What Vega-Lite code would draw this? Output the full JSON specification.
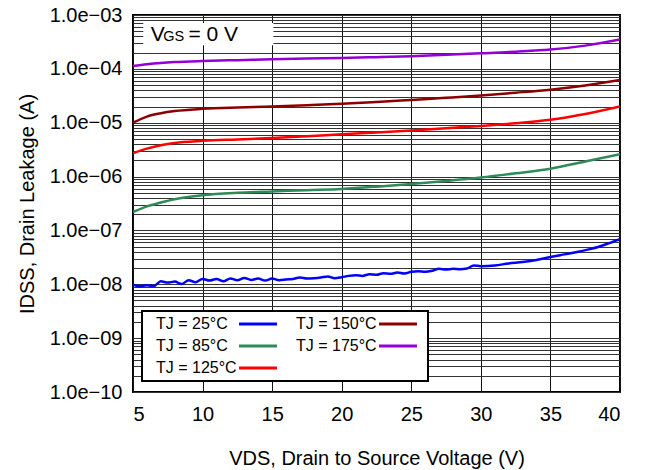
{
  "$schema": "https://vega.github.io/schema/vega-lite/v6.json",
  "width": 487,
  "height": 377,
  "autosize": {"type": "none"},
  "padding": {"left": 133, "top": 15, "right": 25, "bottom": 78},
  "config": {
    "font": "Liberation Sans",
    "view": {"stroke": "black", "strokeWidth": 2},
    "legend": {"strokeWidth": 2}
  },
  "datasets": {
    "curves": [
      {"vds": 5, "idss": 1.13e-4, "T": "TJ = 175°C"},
      {"vds": 6, "idss": 1.22e-4, "T": "TJ = 175°C"},
      {"vds": 7, "idss": 1.29e-4, "T": "TJ = 175°C"},
      {"vds": 8, "idss": 1.34e-4, "T": "TJ = 175°C"},
      {"vds": 10, "idss": 1.40e-4, "T": "TJ = 175°C"},
      {"vds": 12.5, "idss": 1.45e-4, "T": "TJ = 175°C"},
      {"vds": 15, "idss": 1.50e-4, "T": "TJ = 175°C"},
      {"vds": 17.5, "idss": 1.55e-4, "T": "TJ = 175°C"},
      {"vds": 20, "idss": 1.59e-4, "T": "TJ = 175°C"},
      {"vds": 22.5, "idss": 1.65e-4, "T": "TJ = 175°C"},
      {"vds": 25, "idss": 1.72e-4, "T": "TJ = 175°C"},
      {"vds": 27.5, "idss": 1.82e-4, "T": "TJ = 175°C"},
      {"vds": 30, "idss": 1.94e-4, "T": "TJ = 175°C"},
      {"vds": 32.5, "idss": 2.08e-4, "T": "TJ = 175°C"},
      {"vds": 35, "idss": 2.28e-4, "T": "TJ = 175°C"},
      {"vds": 37.5, "idss": 2.70e-4, "T": "TJ = 175°C"},
      {"vds": 40, "idss": 3.50e-4, "T": "TJ = 175°C"},

      {"vds": 5, "idss": 1.0e-5, "T": "TJ = 150°C"},
      {"vds": 6, "idss": 1.3e-5, "T": "TJ = 150°C"},
      {"vds": 7, "idss": 1.5e-5, "T": "TJ = 150°C"},
      {"vds": 8, "idss": 1.65e-5, "T": "TJ = 150°C"},
      {"vds": 10, "idss": 1.81e-5, "T": "TJ = 150°C"},
      {"vds": 12.5, "idss": 1.92e-5, "T": "TJ = 150°C"},
      {"vds": 15, "idss": 2.0e-5, "T": "TJ = 150°C"},
      {"vds": 17.5, "idss": 2.12e-5, "T": "TJ = 150°C"},
      {"vds": 20, "idss": 2.25e-5, "T": "TJ = 150°C"},
      {"vds": 22.5, "idss": 2.42e-5, "T": "TJ = 150°C"},
      {"vds": 25, "idss": 2.65e-5, "T": "TJ = 150°C"},
      {"vds": 27.5, "idss": 2.9e-5, "T": "TJ = 150°C"},
      {"vds": 30, "idss": 3.2e-5, "T": "TJ = 150°C"},
      {"vds": 32.5, "idss": 3.6e-5, "T": "TJ = 150°C"},
      {"vds": 35, "idss": 4.1e-5, "T": "TJ = 150°C"},
      {"vds": 37.5, "idss": 4.9e-5, "T": "TJ = 150°C"},
      {"vds": 40, "idss": 6.2e-5, "T": "TJ = 150°C"},

      {"vds": 5, "idss": 2.7e-6, "T": "TJ = 125°C"},
      {"vds": 6, "idss": 3.3e-6, "T": "TJ = 125°C"},
      {"vds": 7, "idss": 3.8e-6, "T": "TJ = 125°C"},
      {"vds": 8, "idss": 4.2e-6, "T": "TJ = 125°C"},
      {"vds": 10, "idss": 4.6e-6, "T": "TJ = 125°C"},
      {"vds": 12.5, "idss": 4.9e-6, "T": "TJ = 125°C"},
      {"vds": 15, "idss": 5.2e-6, "T": "TJ = 125°C"},
      {"vds": 17.5, "idss": 5.6e-6, "T": "TJ = 125°C"},
      {"vds": 20, "idss": 6.1e-6, "T": "TJ = 125°C"},
      {"vds": 22.5, "idss": 6.6e-6, "T": "TJ = 125°C"},
      {"vds": 25, "idss": 7.2e-6, "T": "TJ = 125°C"},
      {"vds": 27.5, "idss": 7.9e-6, "T": "TJ = 125°C"},
      {"vds": 30, "idss": 8.7e-6, "T": "TJ = 125°C"},
      {"vds": 32.5, "idss": 9.8e-6, "T": "TJ = 125°C"},
      {"vds": 35, "idss": 1.13e-5, "T": "TJ = 125°C"},
      {"vds": 37.5, "idss": 1.45e-5, "T": "TJ = 125°C"},
      {"vds": 40, "idss": 2.0e-5, "T": "TJ = 125°C"},

      {"vds": 5, "idss": 2.2e-7, "T": "TJ = 85°C"},
      {"vds": 6, "idss": 2.8e-7, "T": "TJ = 85°C"},
      {"vds": 7, "idss": 3.3e-7, "T": "TJ = 85°C"},
      {"vds": 8, "idss": 3.8e-7, "T": "TJ = 85°C"},
      {"vds": 10, "idss": 4.5e-7, "T": "TJ = 85°C"},
      {"vds": 12.5, "idss": 5.0e-7, "T": "TJ = 85°C"},
      {"vds": 15, "idss": 5.3e-7, "T": "TJ = 85°C"},
      {"vds": 17.5, "idss": 5.6e-7, "T": "TJ = 85°C"},
      {"vds": 20, "idss": 5.9e-7, "T": "TJ = 85°C"},
      {"vds": 22.5, "idss": 6.5e-7, "T": "TJ = 85°C"},
      {"vds": 25, "idss": 7.3e-7, "T": "TJ = 85°C"},
      {"vds": 27.5, "idss": 8.3e-7, "T": "TJ = 85°C"},
      {"vds": 30, "idss": 9.6e-7, "T": "TJ = 85°C"},
      {"vds": 32.5, "idss": 1.15e-6, "T": "TJ = 85°C"},
      {"vds": 35, "idss": 1.4e-6, "T": "TJ = 85°C"},
      {"vds": 37.5, "idss": 1.9e-6, "T": "TJ = 85°C"},
      {"vds": 40, "idss": 2.6e-6, "T": "TJ = 85°C"},

      {"vds": 5.0, "idss": 9.86e-9, "T": "TJ = 25°C"},
      {"vds": 5.5, "idss": 9.17e-9, "T": "TJ = 25°C"},
      {"vds": 6.0, "idss": 9.57e-9, "T": "TJ = 25°C"},
      {"vds": 6.5, "idss": 9.30e-9, "T": "TJ = 25°C"},
      {"vds": 7.0, "idss": 1.138e-8, "T": "TJ = 25°C"},
      {"vds": 7.5, "idss": 1.074e-8, "T": "TJ = 25°C"},
      {"vds": 8.0, "idss": 1.122e-8, "T": "TJ = 25°C"},
      {"vds": 8.5, "idss": 1.014e-8, "T": "TJ = 25°C"},
      {"vds": 9.0, "idss": 1.188e-8, "T": "TJ = 25°C"},
      {"vds": 9.5, "idss": 1.09e-8, "T": "TJ = 25°C"},
      {"vds": 10.0, "idss": 1.259e-8, "T": "TJ = 25°C"},
      {"vds": 10.5, "idss": 1.171e-8, "T": "TJ = 25°C"},
      {"vds": 11.0, "idss": 1.259e-8, "T": "TJ = 25°C"},
      {"vds": 11.5, "idss": 1.138e-8, "T": "TJ = 25°C"},
      {"vds": 12.0, "idss": 1.277e-8, "T": "TJ = 25°C"},
      {"vds": 12.5, "idss": 1.188e-8, "T": "TJ = 25°C"},
      {"vds": 13.0, "idss": 1.315e-8, "T": "TJ = 25°C"},
      {"vds": 13.5, "idss": 1.206e-8, "T": "TJ = 25°C"},
      {"vds": 14.0, "idss": 1.277e-8, "T": "TJ = 25°C"},
      {"vds": 14.5, "idss": 1.171e-8, "T": "TJ = 25°C"},
      {"vds": 15.0, "idss": 1.277e-8, "T": "TJ = 25°C"},
      {"vds": 15.5, "idss": 1.188e-8, "T": "TJ = 25°C"},
      {"vds": 16.0, "idss": 1.224e-8, "T": "TJ = 25°C"},
      {"vds": 16.5, "idss": 1.259e-8, "T": "TJ = 25°C"},
      {"vds": 17.0, "idss": 1.334e-8, "T": "TJ = 25°C"},
      {"vds": 17.5, "idss": 1.277e-8, "T": "TJ = 25°C"},
      {"vds": 18.0, "idss": 1.296e-8, "T": "TJ = 25°C"},
      {"vds": 18.5, "idss": 1.334e-8, "T": "TJ = 25°C"},
      {"vds": 19.0, "idss": 1.392e-8, "T": "TJ = 25°C"},
      {"vds": 19.5, "idss": 1.296e-8, "T": "TJ = 25°C"},
      {"vds": 20.0, "idss": 1.353e-8, "T": "TJ = 25°C"},
      {"vds": 20.5, "idss": 1.432e-8, "T": "TJ = 25°C"},
      {"vds": 21.0, "idss": 1.474e-8, "T": "TJ = 25°C"},
      {"vds": 21.5, "idss": 1.432e-8, "T": "TJ = 25°C"},
      {"vds": 22.0, "idss": 1.539e-8, "T": "TJ = 25°C"},
      {"vds": 22.5, "idss": 1.496e-8, "T": "TJ = 25°C"},
      {"vds": 23.0, "idss": 1.607e-8, "T": "TJ = 25°C"},
      {"vds": 23.5, "idss": 1.562e-8, "T": "TJ = 25°C"},
      {"vds": 24.0, "idss": 1.654e-8, "T": "TJ = 25°C"},
      {"vds": 24.5, "idss": 1.585e-8, "T": "TJ = 25°C"},
      {"vds": 25.0, "idss": 1.702e-8, "T": "TJ = 25°C"},
      {"vds": 25.5, "idss": 1.751e-8, "T": "TJ = 25°C"},
      {"vds": 26.0, "idss": 1.702e-8, "T": "TJ = 25°C"},
      {"vds": 26.5, "idss": 1.777e-8, "T": "TJ = 25°C"},
      {"vds": 27.0, "idss": 1.937e-8, "T": "TJ = 25°C"},
      {"vds": 27.5, "idss": 1.882e-8, "T": "TJ = 25°C"},
      {"vds": 28.0, "idss": 1.937e-8, "T": "TJ = 25°C"},
      {"vds": 28.5, "idss": 1.91e-8, "T": "TJ = 25°C"},
      {"vds": 29.0, "idss": 1.966e-8, "T": "TJ = 25°C"},
      {"vds": 29.5, "idss": 2.237e-8, "T": "TJ = 25°C"},
      {"vds": 30.0, "idss": 2.173e-8, "T": "TJ = 25°C"},
      {"vds": 31.0, "idss": 2.237e-8, "T": "TJ = 25°C"},
      {"vds": 32.0, "idss": 2.438e-8, "T": "TJ = 25°C"},
      {"vds": 33.0, "idss": 2.582e-8, "T": "TJ = 25°C"},
      {"vds": 34.0, "idss": 2.814e-8, "T": "TJ = 25°C"},
      {"vds": 35.0, "idss": 3.202e-8, "T": "TJ = 25°C"},
      {"vds": 36.0, "idss": 3.594e-8, "T": "TJ = 25°C"},
      {"vds": 37.0, "idss": 4.03e-8, "T": "TJ = 25°C"},
      {"vds": 38.0, "idss": 4.59e-8, "T": "TJ = 25°C"},
      {"vds": 39.0, "idss": 5.53e-8, "T": "TJ = 25°C"},
      {"vds": 40.0, "idss": 6.86e-8, "T": "TJ = 25°C"}
    ]
  },
  "layer": [
    {
      "data": {"name": "curves"},
      "mark": {"type": "line", "strokeWidth": 2.5, "interpolate": "monotone", "clip": true},
      "encoding": {
        "x": {
          "field": "vds", "type": "quantitative",
          "scale": {"domain": [5, 40], "nice": false, "zero": false},
          "axis": {
            "values": [5, 10, 15, 20, 25, 30, 35, 40],
            "title": "VDS, Drain to Source Voltage (V)",
            "grid": true, "gridColor": "#111", "gridWidth": 1, "gridOpacity": 1,
            "ticks": false, "domain": false,
            "labelFontSize": 20, "labelPadding": 12, "labelColor": "black",
            "titleFontSize": 20, "titleFontWeight": "normal", "titleColor": "black", "titlePadding": 24
          }
        },
        "y": {
          "field": "idss", "type": "quantitative",
          "scale": {"type": "log", "domain": [1e-10, 1e-3], "nice": false},
          "axis": {
            "values": [1e-10, 2e-10, 3e-10, 4e-10, 5e-10, 6e-10, 7e-10, 8e-10, 9e-10,
                       1e-9, 2e-9, 3e-9, 4e-9, 5e-9, 6e-9, 7e-9, 8e-9, 9e-9,
                       1e-8, 2e-8, 3e-8, 4e-8, 5e-8, 6e-8, 7e-8, 8e-8, 9e-8,
                       1e-7, 2e-7, 3e-7, 4e-7, 5e-7, 6e-7, 7e-7, 8e-7, 9e-7,
                       1e-6, 2e-6, 3e-6, 4e-6, 5e-6, 6e-6, 7e-6, 8e-6, 9e-6,
                       1e-5, 2e-5, 3e-5, 4e-5, 5e-5, 6e-5, 7e-5, 8e-5, 9e-5,
                       1e-4, 2e-4, 3e-4, 4e-4, 5e-4, 6e-4, 7e-4, 8e-4, 9e-4, 1e-3],
            "labelExpr": "abs(log(datum.value)/LN10 - round(log(datum.value)/LN10)) < 0.001 ? '1.0e\u2212' + (-round(log(datum.value)/LN10) >= 10 ? '' : '0') + (-round(log(datum.value)/LN10)) : ''",
            "title": "IDSS, Drain Leakage (A)",
            "grid": true, "gridColor": "#333", "gridWidth": 1, "gridOpacity": 1,
            "ticks": false, "domain": false,
            "labelFontSize": 20, "labelPadding": 11, "labelColor": "black", "labelOverlap": false,
            "titleFontSize": 20, "titleFontWeight": "normal", "titleColor": "black", "titlePadding": 12
          }
        },
        "color": {
          "field": "T", "type": "nominal",
          "scale": {
            "domain": ["TJ = 25°C", "TJ = 85°C", "TJ = 125°C", "TJ = 150°C", "TJ = 175°C"],
            "range": ["#0000ff", "#2e8b57", "#ff0000", "#8b0000", "#9400d3"]
          },
          "legend": {
            "title": null,
            "orient": "none", "legendX": 9, "legendY": 296,
            "columns": 2, "columnPadding": 4, "rowPadding": 6,
            "fillColor": "white", "strokeColor": "black", "padding": 5,
            "symbolType": "M-4,0H4", "symbolSize": 90, "symbolStrokeWidth": 3,
            "symbolOffset": 103, "labelOffset": -110,
            "labelFontSize": 16, "labelColor": "black", "labelLimit": 200
          }
        }
      }
    },
    {
      "data": {"values": [{}]},
      "mark": {"type": "rect", "fill": "white"},
      "encoding": {
        "x": {"datum": 5.74, "type": "quantitative"},
        "x2": {"datum": 15.09},
        "y": {"datum": 7.08e-4, "type": "quantitative"},
        "y2": {"datum": 2.74e-4}
      }
    },
    {
      "data": {"values": [{}]},
      "mark": {"type": "text", "align": "left", "baseline": "alphabetic", "fontSize": 21, "color": "black"},
      "encoding": {
        "x": {"datum": 6.27, "type": "quantitative"},
        "y": {"datum": 3.3e-4, "type": "quantitative"},
        "text": {"value": "V"}
      }
    },
    {
      "data": {"values": [{}]},
      "mark": {"type": "text", "align": "left", "baseline": "alphabetic", "fontSize": 14.5, "color": "black"},
      "encoding": {
        "x": {"datum": 7.18, "type": "quantitative"},
        "y": {"datum": 3.3e-4, "type": "quantitative"},
        "text": {"value": "GS"}
      }
    },
    {
      "data": {"values": [{}]},
      "mark": {"type": "text", "align": "left", "baseline": "alphabetic", "fontSize": 21, "color": "black"},
      "encoding": {
        "x": {"datum": 8.98, "type": "quantitative"},
        "y": {"datum": 3.3e-4, "type": "quantitative"},
        "text": {"value": "= 0 V"}
      }
    }
  ]
}
